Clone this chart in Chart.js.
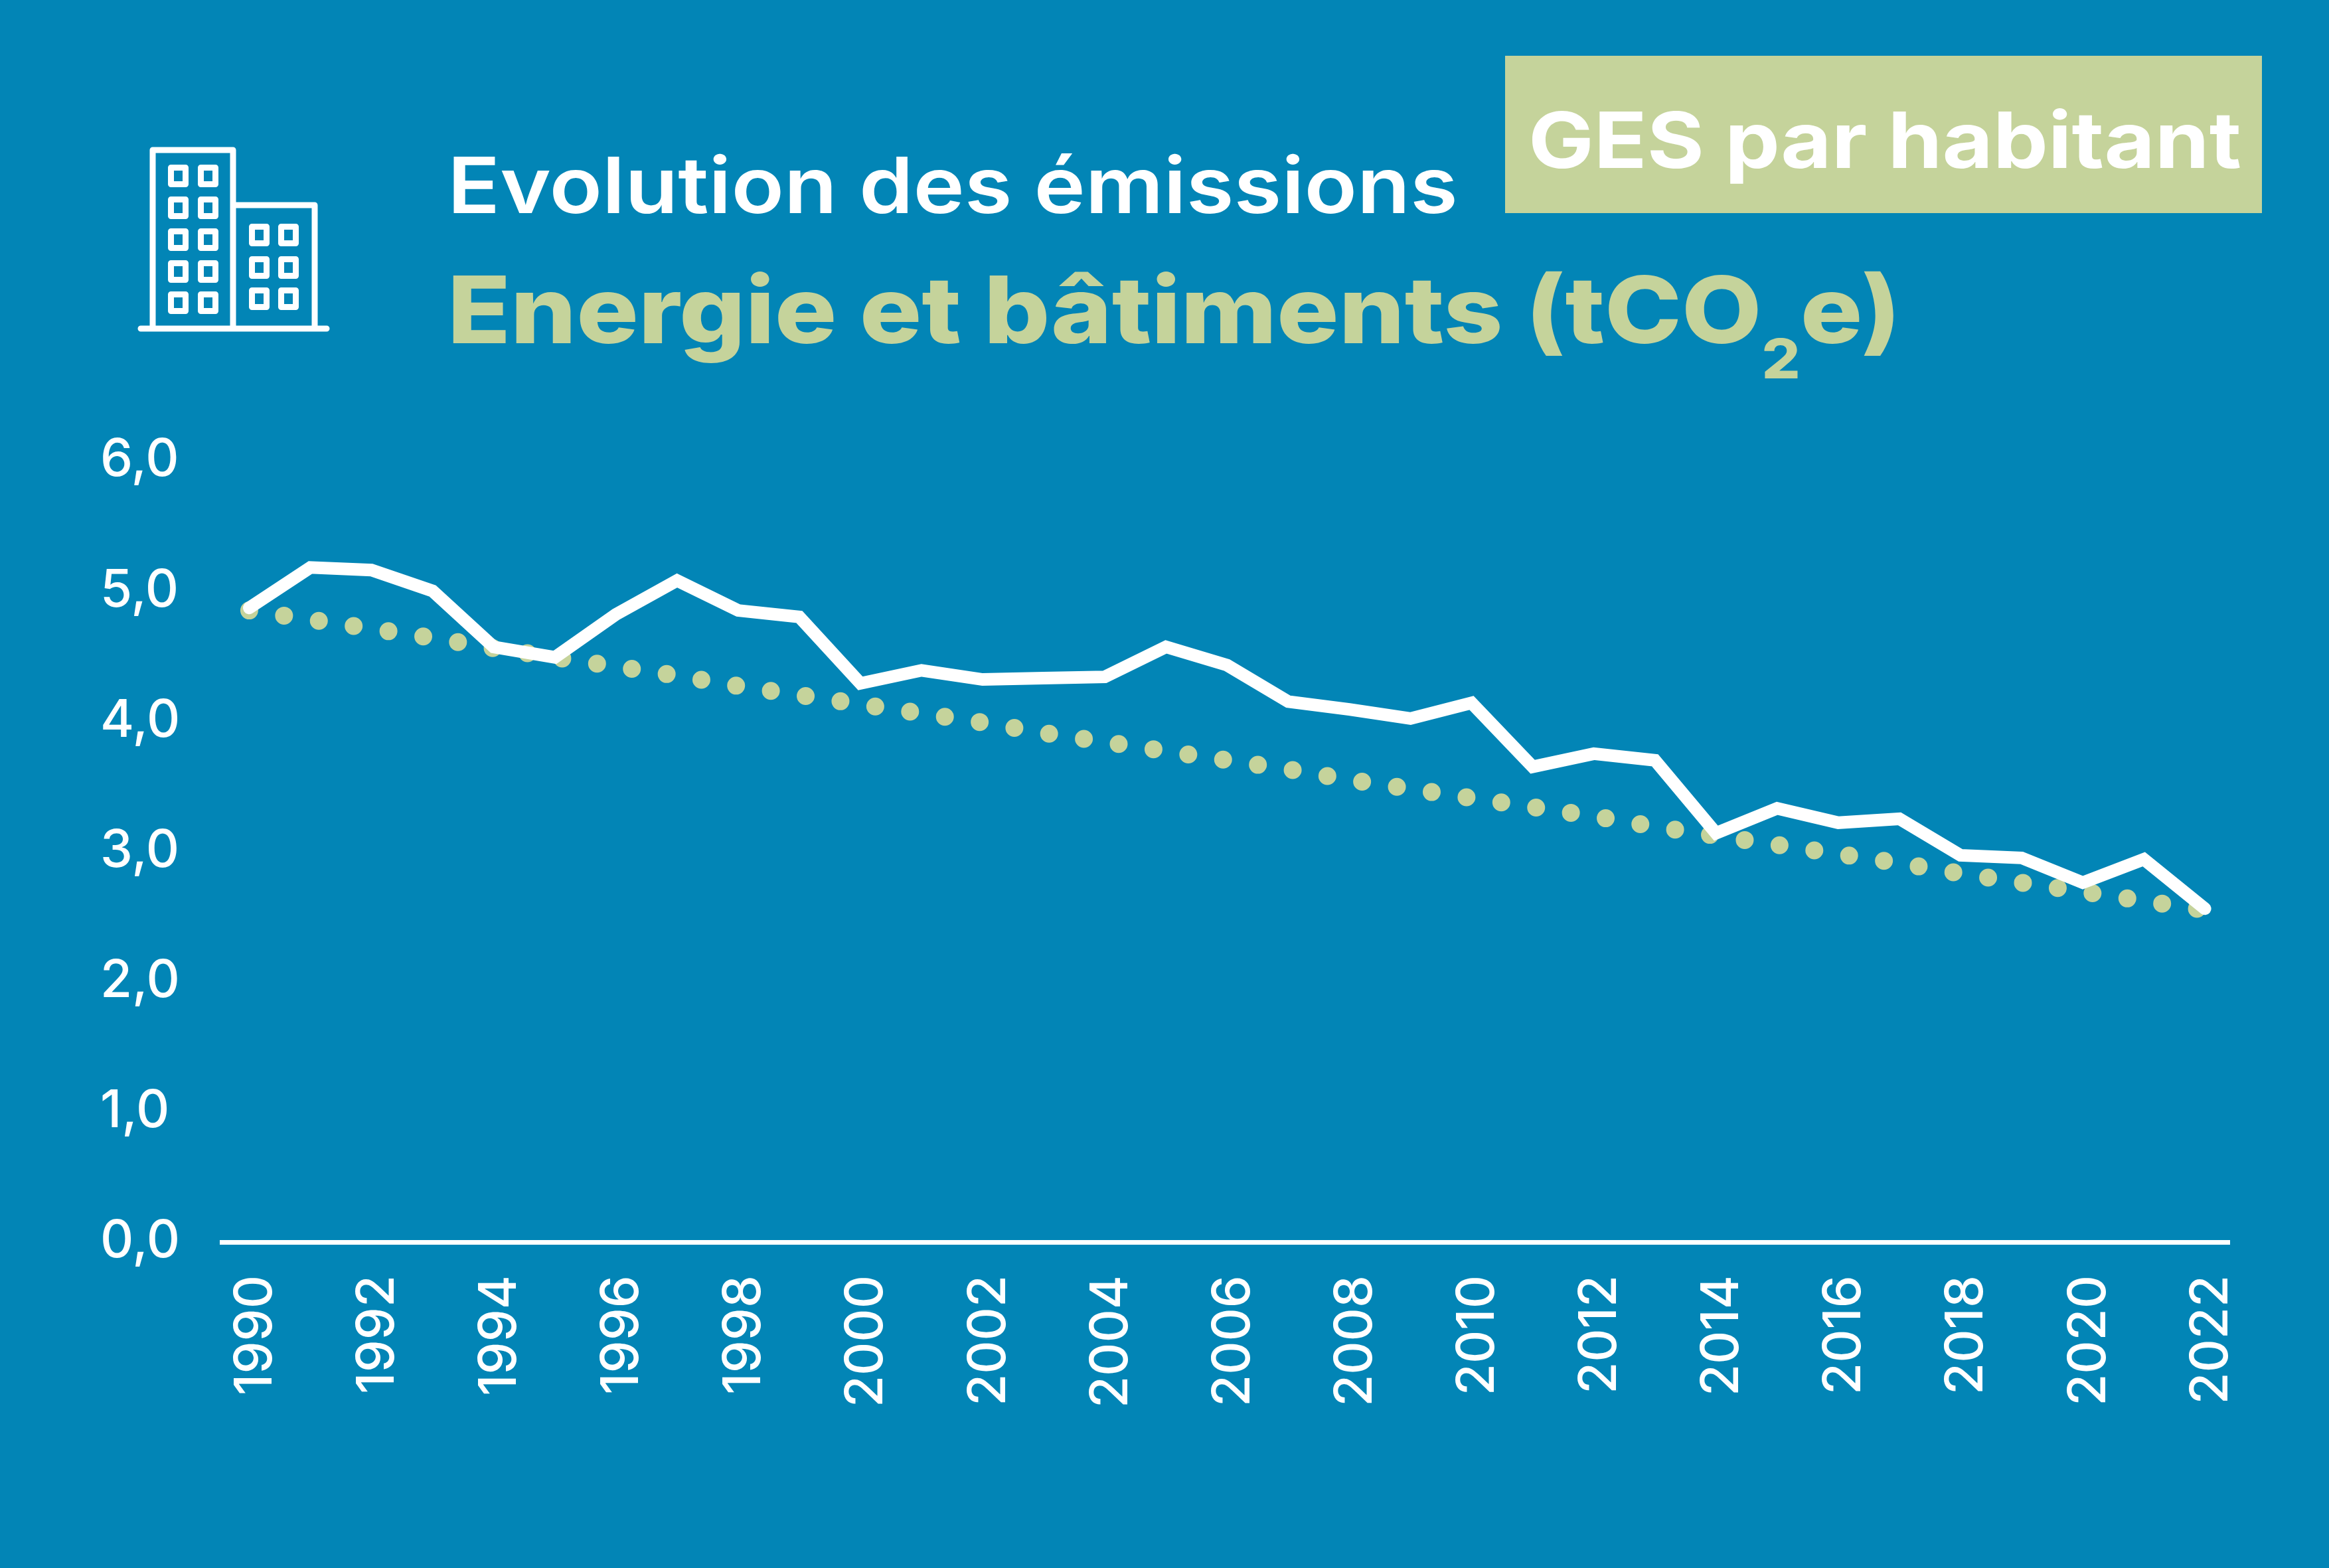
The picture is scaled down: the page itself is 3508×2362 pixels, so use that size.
<!DOCTYPE html>
<html lang="fr">
<head>
    <meta charset="UTF-8">
    <title>GES par habitant - Energie et bâtiments</title>
    <script src="https://cdn.jsdelivr.net/npm/chart.js"></script>
    <style>
        html, body { margin: 0; padding: 0; background: #0285b6; }
        .page { position: relative; width: 3508px; height: 2362px; overflow: hidden; background: #0285b6; font-family: Inter, sans-serif; }
        canvas { position: absolute; left: 0; top: 0; }
        .titre, .sous-titre, .badge-texte { position: absolute; white-space: nowrap; line-height: 1; transform-origin: left top; }
        .titre { left: 674px; top: 220px; font-size: 117px; font-weight: 600; color: #fff; transform: scaleX(1.117); }
        .sous-titre { left: 674px; top: 396px; font-size: 140px; font-weight: 800; color: #c5d39b; transform: scaleX(1.114); }
        .sous-titre sub { font-size: 82px; line-height: 0; vertical-align: -53px; }
        .badge { position: absolute; left: 2267px; top: 84px; width: 1140px; height: 237px; background: #c5d39b; }
        .badge-texte { left: 35px; top: 68px; font-size: 117px; font-weight: 700; color: #fff; transform: scaleX(1.125); }
        svg { position: absolute; left: 0; top: 0; }
    </style>
</head>
<body>
    <div class="page">
        <canvas id="graphique" width="3508" height="2362"></canvas>
        <svg id="icone" width="600" height="600" fill="none" stroke="#fff" stroke-width="9" stroke-linejoin="round" stroke-linecap="round"></svg>
        <div class="titre">Evolution des émissions</div>
        <div class="sous-titre">Energie et bâtiments (tCO<sub>2</sub>e)</div>
        <div class="badge"><div class="badge-texte">GES par habitant</div></div>
    </div>

    <script>
        // Valeurs
        var annees = [1990, 1991, 1992, 1993, 1994, 1995, 1996, 1997, 1998, 1999, 2000, 2001, 2002, 2003, 2004, 2005, 2006,
            2007, 2008, 2009, 2010, 2011, 2012, 2013, 2014, 2015, 2016, 2017, 2018, 2019, 2020, 2021, 2022];
        var emissions = [4.87, 5.18, 5.16, 5.00, 4.57, 4.49, 4.82, 5.08, 4.85, 4.80, 4.29, 4.39, 4.32, 4.33, 4.34, 4.57, 4.43,
            4.15, 4.09, 4.02, 4.14, 3.65, 3.75, 3.70, 3.14, 3.33, 3.22, 3.25, 2.97, 2.95, 2.76, 2.94, 2.56];
        var tendance = [4.85, 4.78, 4.71, 4.64, 4.56, 4.49, 4.42, 4.35, 4.27, 4.20, 4.13, 4.06, 3.99, 3.91, 3.84, 3.77, 3.70,
            3.63, 3.55, 3.48, 3.41, 3.34, 3.27, 3.19, 3.12, 3.05, 2.98, 2.91, 2.83, 2.76, 2.69, 2.62, 2.55];

        var blanc = '#ffffff';
        var vert = '#c5d39b';

        function enPoints(valeurs) {
            return annees.map(function(annee, i) { return { x: annee, y: valeurs[i] }; });
        }

        var ctx = document.getElementById('graphique').getContext('2d');
        new Chart(ctx, {
            type: 'line',
            data: {
                datasets: [{
                    label: 'Emissions',
                    data: enPoints(emissions),
                    borderColor: blanc,
                    borderWidth: 19,
                    borderCapStyle: 'round',
                    borderJoinStyle: 'miter',
                    pointRadius: 0,
                    tension: 0,
                    order: 1
                }, {
                    label: 'Tendance',
                    data: enPoints(tendance),
                    borderColor: vert,
                    borderWidth: 27,
                    borderCapStyle: 'round',
                    borderDash: [0, 53],
                    pointRadius: 0,
                    tension: 0,
                    order: 2
                }]
            },
            options: {
                responsive: false,
                animation: false,
                devicePixelRatio: 1,
                layout: { padding: { left: 151, right: 150, top: 694, bottom: 191 } },
                plugins: { legend: { display: false }, tooltip: { enabled: false }, title: { display: false } },
                scales: {
                    x: {
                        type: 'linear',
                        min: 1989.55,
                        max: 2022.4,
                        afterFit: function(scale) { scale.height = 300; },
                        grid: { display: false },
                        border: { display: true, color: blanc, width: 7 },
                        ticks: {
                            stepSize: 2,
                            includeBounds: false,
                            autoSkip: false,
                            minRotation: 90,
                            maxRotation: 90,
                            padding: 42,
                            labelOffset: 10,
                            color: blanc,
                            font: { family: 'Inter', size: 78, weight: 500 },
                            callback: function(v) { return String(v); }
                        }
                    },
                    y: {
                        min: 0,
                        max: 6,
                        afterFit: function(scale) { scale.width = 183; },
                        grid: { display: false },
                        border: { display: false },
                        ticks: {
                            stepSize: 1,
                            crossAlign: 'far',
                            color: blanc,
                            font: { family: 'Inter', size: 78, weight: 500 },
                            callback: function(v) { return v.toFixed(1).replace('.', ','); }
                        }
                    }
                }
            }
        });

        // Icône des immeubles
        var colonnesA = [253, 298], lignesA = [248, 296, 344, 392, 439];
        var colonnesB = [375, 419], lignesB = [337, 386, 433];
        var icone = '<path d="M230 495V226H351V495M351 309H474V495M212 495H492"/>';
        function fenetres(colonnes, lignes) {
            colonnes.forEach(function(x) {
                lignes.forEach(function(y) {
                    icone += '<rect x="' + (x + 4.5) + '" y="' + (y + 4.5) + '" width="22" height="25"/>';
                });
            });
        }
        fenetres(colonnesA, lignesA);
        fenetres(colonnesB, lignesB);
        document.getElementById('icone').innerHTML = icone;
    </script>
</body>
</html>
